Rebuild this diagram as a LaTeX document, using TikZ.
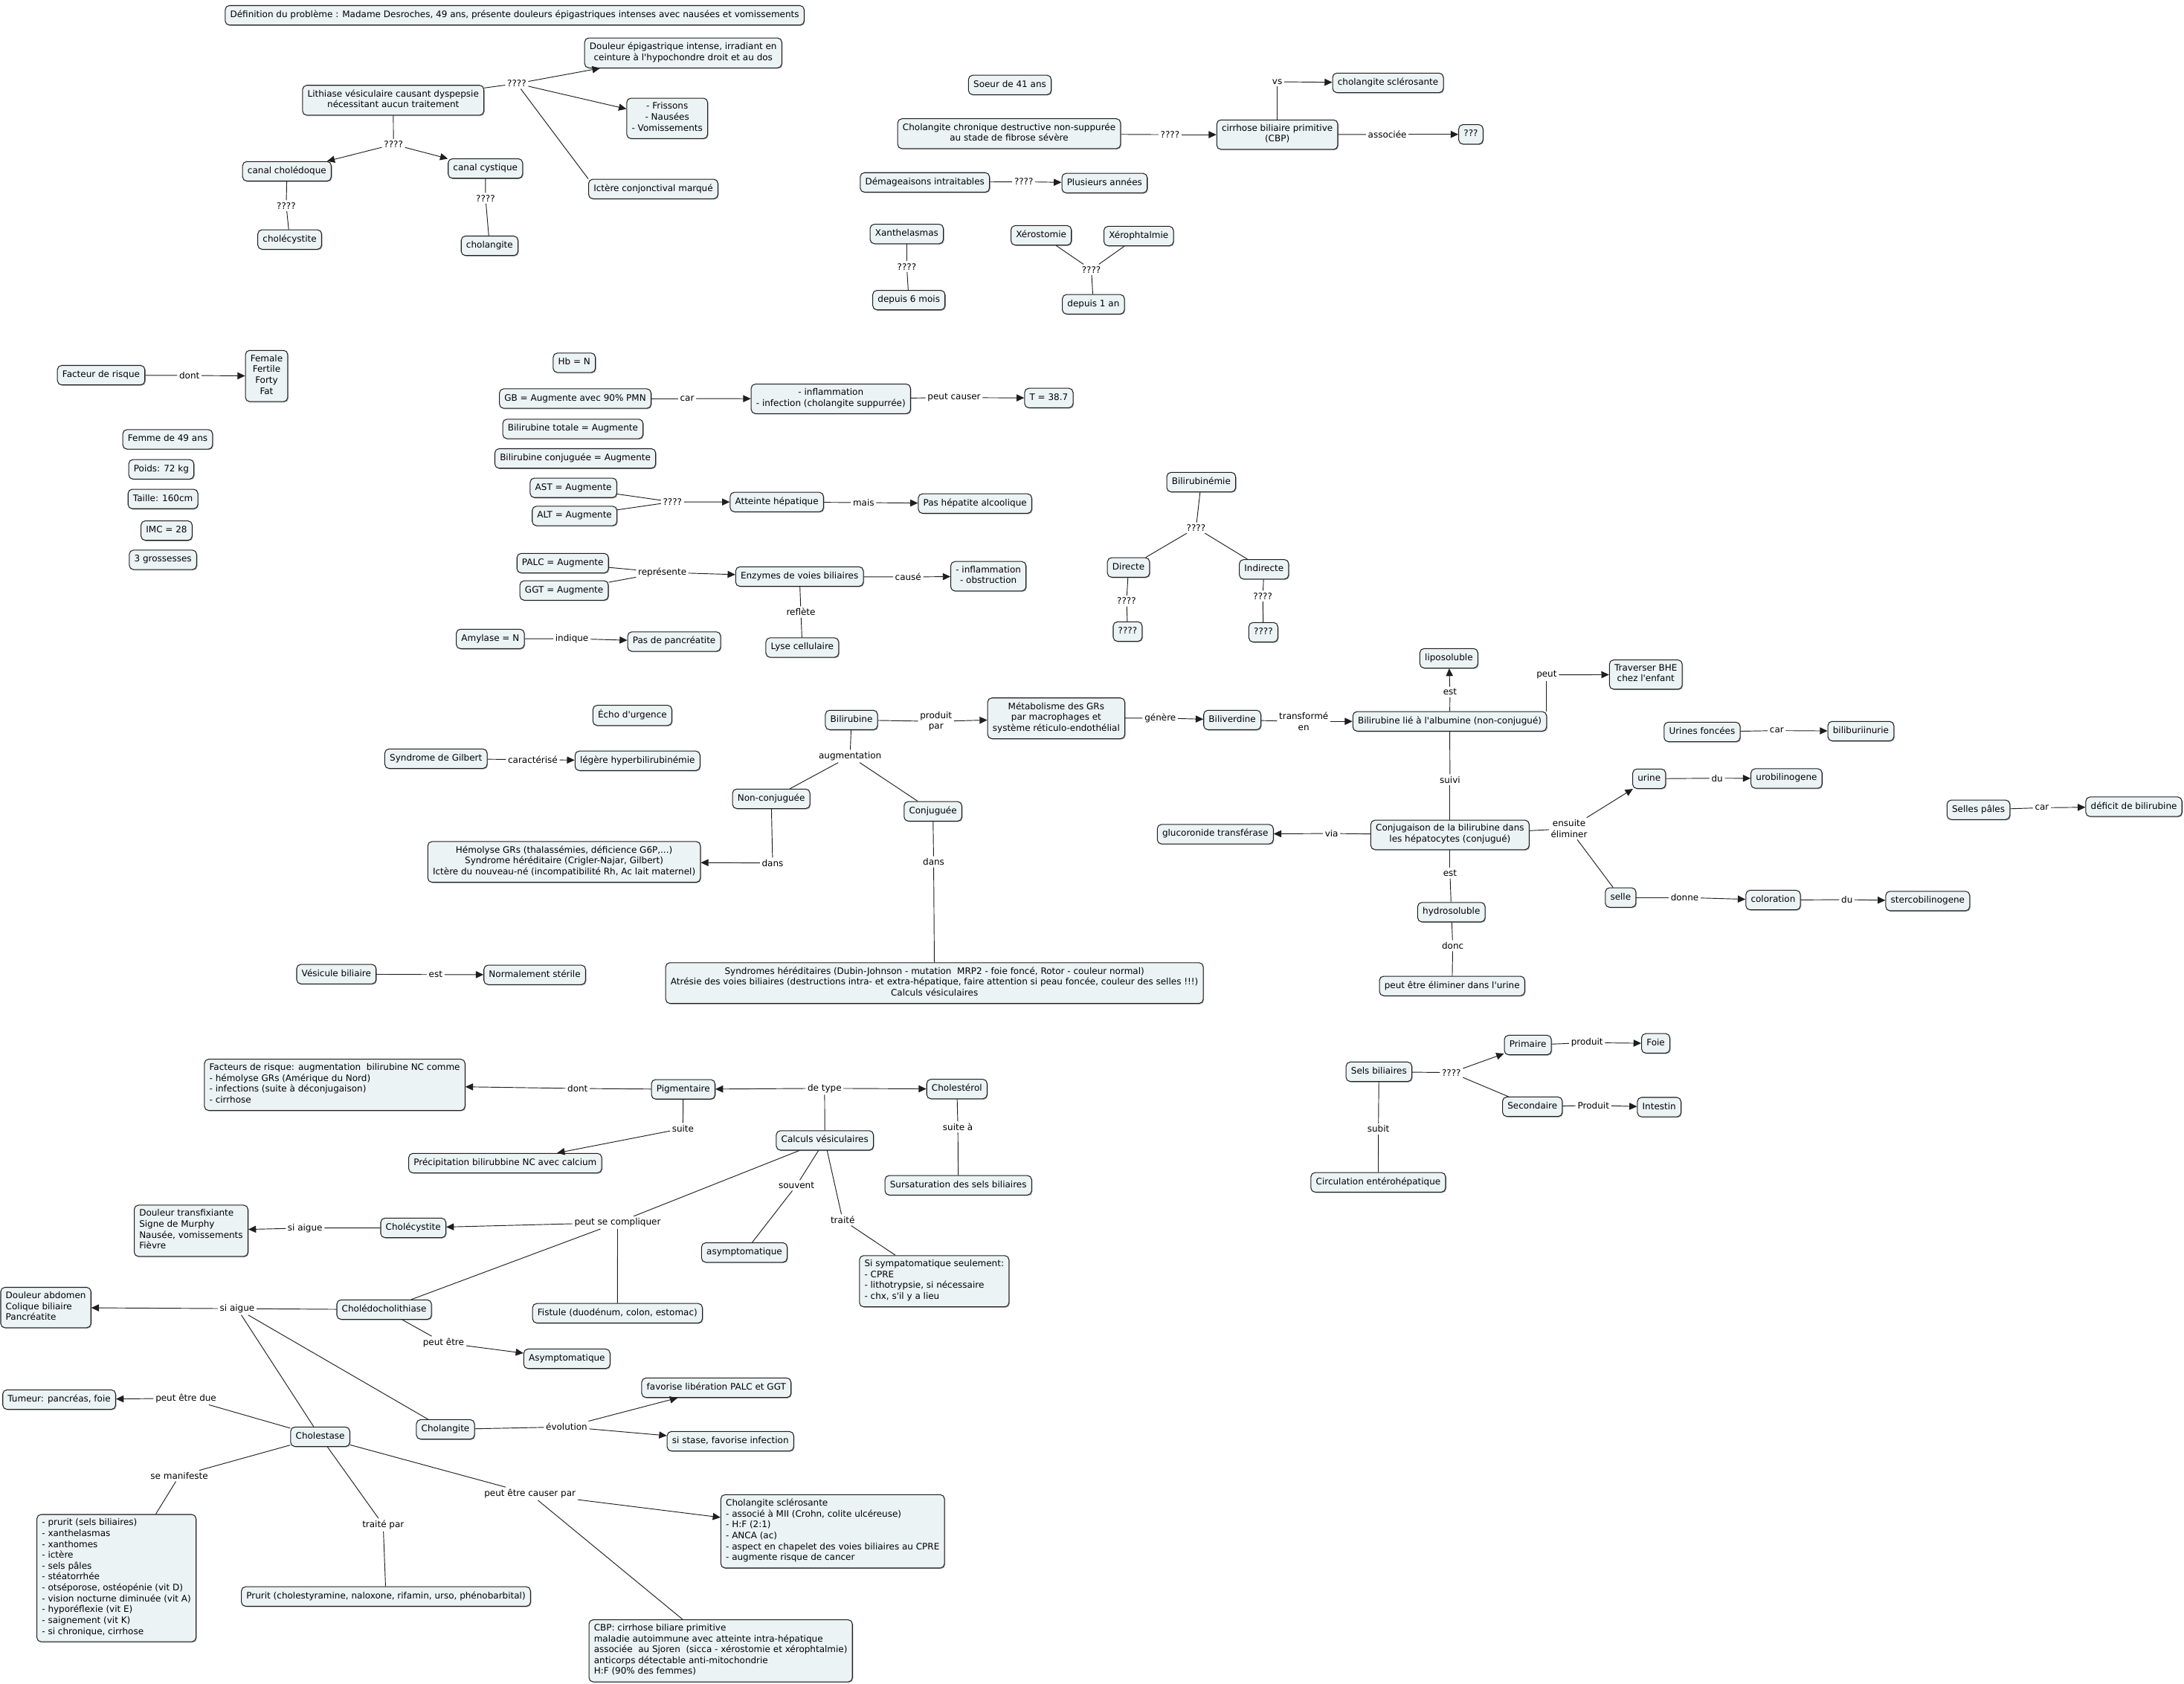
\documentclass[tikz,border=0pt]{standalone}
\usepackage{fontspec}
\setmainfont{DejaVu Sans}[Ligatures=TeXOff]
\usetikzlibrary{arrows.meta,shadows}
\definecolor{boxfill}{RGB}{236,243,245}
\definecolor{edgecol}{RGB}{30,30,30}
\tikzset{
  txt/.style={font=\fontsize{6.4}{7.8}\selectfont},
  box/.style={txt, draw=edgecol, line width=0.55pt, rounded corners=3pt, fill=boxfill,
    inner xsep=3.6pt, inner ysep=3.1pt, align=center,
    execute at begin node=\strut, execute at end node=\strut,
    drop shadow={shadow xshift=0.6pt, shadow yshift=-0.6pt, fill=black!55, opacity=0.6}},
  lbox/.style={box, align=left},
  lab/.style={txt, inner sep=1.3pt, align=center},
  con/.style={line width=0.5pt, draw=edgecol},
  arr/.style={con, -{Triangle[length=5.5pt,width=5pt]}},
}
\begin{document}
\begin{tikzpicture}[x=1pt,y=-1pt]
\fill[white] (0,0) rectangle (1568,1209);
\useasboundingbox (0,0) rectangle (1568,1209);

% ---------- top left ----------
\node[box] (def) at (369.5,11) {Définition du problème : Madame Desroches, 49 ans, présente douleurs épigastriques intenses avec nausées et vomissements};
\node[box] (lith) at (282.3,72) {Lithiase vésiculaire causant dyspepsie\\nécessitant aucun traitement};
\node[lab] (q1) at (371,60) {????};
\node[box] (doul) at (490.5,38) {Douleur épigastrique intense, irradiant en\\ceinture à l'hypochondre droit et au dos};
\node[box] (friss) at (479,85) {- Frissons\\- Nausées\\- Vomissements};
\node[box] (ictere) at (469,135.7) {Ictère conjonctival marqué};
\node[lab] (q2) at (282.5,103.7) {????};
\node[box] (canalch) at (206,123) {canal cholédoque};
\node[box] (canalcy) at (348.5,121) {canal cystique};
\node[lab] (q3) at (205.5,147.7) {????};
\node[lab] (q4) at (348.6,142.4) {????};
\node[box] (cholecA) at (208,172) {cholécystite};
\node[box] (cholangA) at (351.5,176.5) {cholangite};

% ---------- top right ----------
\node[box] (soeur) at (725,61) {Soeur de 41 ans};
\node[box] (chcd) at (724.5,96) {Cholangite chronique destructive non-suppurée\\au stade de fibrose sévère};
\node[lab] (q5) at (840,96.7) {????};
\node[box] (cbp) at (917,96.7) {cirrhose biliaire primitive\\(CBP)};
\node[lab] (vs) at (917,58.7) {vs};
\node[box] (cholscl) at (996.5,59.5) {cholangite sclérosante};
\node[lab] (assoc) at (996,96.5) {associée};
\node[box] (qqq) at (1056,96.5) {???};
\node[box] (dema) at (664,131) {Démageaisons intraitables};
\node[lab] (q6) at (735,130.5) {????};
\node[box] (plus) at (793,131.5) {Plusieurs années};
\node[box] (xanth) at (651,168) {Xanthelasmas};
\node[lab] (q7) at (651,191.5) {????};
\node[box] (dep6) at (652.5,215.5) {depuis 6 mois};
\node[box] (xero) at (747.5,169) {Xérostomie};
\node[box] (xeroph) at (817.5,169.5) {Xérophtalmie};
\node[lab] (q8) at (783.5,193.6) {????};
\node[box] (dep1) at (785,218.5) {depuis 1 an};

% ---------- left middle ----------
\node[box] (risk) at (72.6,269.4) {Facteur de risque};
\node[lab] (dont) at (136,269.6) {dont};
\node[box] (ffff) at (191.4,270) {Female\\Fertile\\Forty\\Fat};
\node[box] (femme) at (120.4,315.5) {Femme de 49 ans};
\node[box] (poids) at (115.8,337) {Poids: 72 kg};
\node[box] (taille) at (117,358.3) {Taille: 160cm};
\node[box] (imc) at (119.6,381) {IMC = 28};
\node[box] (gross) at (117,402) {3 grossesses};

% ---------- lab values ----------
\node[box] (hb) at (412.3,260.5) {Hb = N};
\node[box] (gb) at (413,286.2) {GB = Augmente avec 90\% PMN};
\node[lab] (car1) at (493.3,286.2) {car};
\node[box] (inflA) at (596.5,286.4) {- inflammation\\- infection (cholangite suppurrée)};
\node[lab] (peutcaus) at (685,285.5) {peut causer};
\node[box] (temp) at (753,285.8) {T = 38.7};
\node[box] (biltot) at (411.3,308) {Bilirubine totale = Augmente};
\node[box] (bilconj) at (413,329.2) {Bilirubine conjuguée = Augmente};
\node[box] (ast) at (411.7,350.3) {AST = Augmente};
\node[box] (alt) at (412.5,370.5) {ALT = Augmente};
\node[lab] (q9) at (482.8,360.4) {????};
\node[box] (atteinte) at (557.7,360.5) {Atteinte hépatique};
\node[lab] (mais) at (620,360.9) {mais};
\node[box] (pashep) at (700,361.6) {Pas hépatite alcoolique};
\node[box] (palc) at (404,404.4) {PALC = Augmente};
\node[box] (ggt) at (405,424) {GGT = Augmente};
\node[lab] (repr) at (475.5,411) {représente};
\node[box] (enz) at (574,414) {Enzymes de voies biliaires};
\node[lab] (cause) at (652,414.3) {causé};
\node[box] (inflB) at (709.6,413.8) {- inflammation\\- obstruction};
\node[lab] (refl) at (575,439.5) {reflète};
\node[box] (lyse) at (576,465) {Lyse cellulaire};
\node[box] (amyl) at (352,458.8) {Amylase = N};
\node[lab] (indique) at (410.6,458.6) {indique};
\node[box] (paspanc) at (484,460.7) {Pas de pancréatite};

% ---------- bilirubinemie ----------
\node[box] (bilem) at (862.4,346.2) {Bilirubinémie};
\node[lab] (q10) at (858.7,379) {????};
\node[box] (directe) at (810.2,407.5) {Directe};
\node[box] (indirecte) at (907.5,408.8) {Indirecte};
\node[lab] (q11) at (808.8,431.5) {????};
\node[lab] (q12) at (906.6,428) {????};
\node[box] (qq1) at (809.6,453.5) {????};
\node[box] (qq2) at (907,454) {????};

% ---------- middle ----------
\node[box] (echo) at (454,513.7) {Écho d'urgence};
\node[box] (gilbert) at (313,544.8) {Syndrome de Gilbert};
\node[lab] (carac) at (382.5,545.5) {caractérisé};
\node[box] (legere) at (457.7,546.3) {légère hyperbilirubinémie};
\node[box] (bilirub) at (611.3,517) {Bilirubine};
\node[lab] (prodpar) at (672,518) {produit\\par};
\node[box] (metab) at (758.3,515.8) {Métabolisme des GRs\\par macrophages et\\système réticulo-endothélial};
\node[lab] (genere) at (833,515.6) {génère};
\node[box] (biliv) at (884.7,517) {Biliverdine};
\node[lab] (transf) at (936,518) {transformé\\en};
\node[box] (bilalb) at (1040.8,518) {Bilirubine lié à l'albumine (non-conjugué)};
\node[lab] (est1) at (1041,496.9) {est};
\node[box] (lipo) at (1040.2,472.7) {liposoluble};
\node[lab] (peut) at (1110.4,484.6) {peut};
\node[box] (bhe) at (1181.6,484.4) {Traverser BHE\\chez l'enfant};
\node[lab] (augm) at (610.3,543) {augmentation};
\node[box] (nonconj) at (553.7,573.6) {Non-conjuguée};
\node[box] (conj) at (669.8,582.6) {Conjuguée};
\node[lab] (dans1) at (554.7,619.7) {dans};
\node[lab] (dans2) at (670.3,618.8) {dans};
\node[box] (hemo) at (405,618.9) {Hémolyse GRs (thalassémies, déficience G6P,...)\\Syndrome héréditaire (Crigler-Najar, Gilbert)\\Ictère du nouveau-né (incompatibilité Rh, Ac lait maternel)};
\node[box] (synd) at (670.9,705.9) {Syndromes héréditaires (Dubin-Johnson - mutation\ \ MRP2 - foie foncé, Rotor - couleur normal)\\Atrésie des voies biliaires (destructions intra- et extra-hépatique, faire attention si peau foncée, couleur des selles !!!)\\Calculs vésiculaires};
\node[box] (vesb) at (241.5,699.5) {Vésicule biliaire};
\node[lab] (est2) at (312.8,699.8) {est};
\node[box] (sterile) at (383.9,700) {Normalement stérile};

% ---------- right ----------
\node[box] (urines) at (1222,525.6) {Urines foncées};
\node[lab] (car2) at (1275.6,524.6) {car};
\node[box] (bilib) at (1336,525) {biliburiinurie};
\node[lab] (suivi) at (1041,560) {suivi};
\node[box] (conjug) at (1041,599.5) {Conjugaison de la bilirubine dans\\les hépatocytes (conjugué)};
\node[lab] (via) at (956,598.5) {via};
\node[box] (gluco) at (872.5,599) {glucoronide transférase};
\node[lab] (ensuite) at (1126.5,595) {ensuite\\éliminer};
\node[box] (urine) at (1184,559.2) {urine};
\node[lab] (du1) at (1232.8,558.8) {du};
\node[box] (urob) at (1282.6,559) {urobilinogene};
\node[box] (selle) at (1163.5,644.5) {selle};
\node[lab] (donne) at (1209.5,644.5) {donne};
\node[box] (color) at (1273,646.3) {coloration};
\node[lab] (du2) at (1326,646) {du};
\node[box] (sterco) at (1384,647) {stercobilinogene};
\node[box] (sellep) at (1420.4,581.5) {Selles pâles};
\node[lab] (car3) at (1466,580) {car};
\node[box] (deficit) at (1532,579.3) {déficit de bilirubine};
\node[lab] (est3) at (1041,627) {est};
\node[box] (hydro) at (1042,655) {hydrosoluble};
\node[lab] (donc) at (1043,679) {donc};
\node[box] (peutelim) at (1042.5,708) {peut être éliminer dans l'urine};

% ---------- lower ----------
\node[box] (pigm) at (490.5,782.2) {Pigmentaire};
\node[lab] (dont2) at (414.7,781.6) {dont};
\node[lbox] (facteurs) at (240.3,779) {Facteurs de risque: augmentation\ \ bilirubine NC comme\\- hémolyse GRs (Amérique du Nord)\\- infections (suite à déconjugaison)\\- cirrhose};
\node[lab] (suite) at (490.3,810.3) {suite};
\node[box] (precip) at (362.7,835.2) {Précipitation bilirubbine NC avec calcium};
\node[lab] (detype) at (592,781.5) {de type};
\node[box] (chol) at (687,782) {Cholestérol};
\node[lab] (suitea) at (687.7,809.2) {suite à};
\node[box] (sursat) at (688,851.1) {Sursaturation des sels biliaires};
\node[box] (calculs) at (592.2,818.9) {Calculs vésiculaires};
\node[lab] (compl) at (443.4,877.9) {peut se compliquer};
\node[lab] (souvent) at (571.8,851.2) {souvent};
\node[lab] (traite) at (605,876) {traité};
\node[box] (asympt) at (534.4,899.4) {asymptomatique};
\node[lbox] (sisym) at (670.7,920) {Si sympatomatique seulement:\\- CPRE\\- lithotrypsie, si nécessaire\\- chx, s'il y a lieu};
\node[lbox] (doulT) at (137.2,883.8) {Douleur transfixiante\\Signe de Murphy\\Nausée, vomissements\\Fièvre};
\node[lab] (siaigA) at (219,881.8) {si aigue};
\node[box] (cholecyst) at (296.7,881.7) {Cholécystite};
\node[box] (choledo) at (275.8,940.4) {Cholédocholithiase};
\node[box] (fistule) at (443.3,943) {Fistule (duodénum, colon, estomac)};
\node[lbox] (doulA) at (32.9,938.9) {Douleur abdomen\\Colique biliaire\\Pancréatite};
\node[lab] (siaigB) at (170.3,939.7) {si aigue};
\node[lab] (peutetre) at (318.4,964.2) {peut être};
\node[box] (asympt2) at (407,975.7) {Asymptomatique};
\node[box] (tumeur) at (42.5,1005) {Tumeur: pancréas, foie};
\node[lab] (peutdue) at (133.5,1004) {peut être due};
\node[box] (cholest) at (229.9,1031.7) {Cholestase};
\node[box] (cholangB) at (319.8,1026.4) {Cholangite};
\node[lab] (evol) at (406.8,1024.6) {évolution};
\node[box] (favor) at (514.3,996.5) {favorise libération PALC et GGT};
\node[box] (stase) at (524.4,1034.9) {si stase, favorise infection};
\node[lab] (semanif) at (128.7,1059.8) {se manifeste};
\node[lbox] (prurit) at (83.6,1133.2) {- prurit (sels biliaires)\\- xanthelasmas\\- xanthomes\\- ictère\\- sels pâles\\- stéatorrhée\\- otséporose, ostéopénie (vit D)\\- vision nocturne diminuée (vit A)\\- hyporéflexie (vit E)\\- saignement (vit K)\\- si chronique, cirrhose};
\node[lab] (traitepar) at (275.1,1095) {traité par};
\node[box] (prurit2) at (277.1,1146.4) {Prurit (cholestyramine, naloxone, rifamin, urso, phénobarbital)};
\node[lab] (causer) at (380.5,1072.6) {peut être causer par};
\node[lbox] (cholscl2) at (597.8,1099.6) {Cholangite sclérosante\\- associé à MII (Crohn, colite ulcéreuse)\\- H:F (2:1)\\- ANCA (ac)\\- aspect en chapelet des voies biliaires au CPRE\\- augmente risque de cancer};
\node[lbox] (cbp2) at (517.4,1185.4) {CBP: cirrhose biliare primitive\\maladie autoimmune avec atteinte intra-hépatique\\associée\ \ au Sjoren\ \ (sicca - xérostomie et xérophtalmie)\\anticorps détectable anti-mitochondrie\\H:F (90\% des femmes)};

% ---------- sels biliaires ----------
\node[box] (sels) at (990,769.6) {Sels biliaires};
\node[lab] (q13) at (1042,770.2) {????};
\node[box] (primaire) at (1096.9,750.4) {Primaire};
\node[lab] (prodA) at (1139.4,748.7) {produit};
\node[box] (foie) at (1188.7,749.2) {Foie};
\node[box] (second) at (1100.2,794.7) {Secondaire};
\node[lab] (prodB) at (1144,793.7) {Produit};
\node[box] (intestin) at (1191.2,795) {Intestin};
\node[lab] (subit) at (989.6,810.6) {subit};
\node[box] (circ) at (989.5,849) {Circulation entérohépatique};

% ================= connectors =================
\draw[con] (lith) -- (q1);
\draw[arr] (q1) -- (doul);
\draw[arr] (q1) -- (friss);
\draw[con] (q1) -- (ictere.north west);
\draw[con] (lith) -- (q2);
\draw[arr] (q2) -- (canalch);
\draw[arr] (q2) -- (canalcy);
\draw[con] (canalch) -- (q3);
\draw[con] (q3) -- (cholecA);
\draw[con] (canalcy) -- (q4);
\draw[con] (q4) -- (cholangA);
\draw[con] (chcd) -- (q5);
\draw[arr] (q5) -- (cbp);
\draw[con] (cbp) -- (vs);
\draw[arr] (vs) -- (cholscl);
\draw[con] (cbp) -- (assoc);
\draw[arr] (assoc) -- (qqq);
\draw[con] (dema) -- (q6);
\draw[arr] (q6) -- (plus);
\draw[con] (xanth) -- (q7);
\draw[con] (q7) -- (dep6);
\draw[con] (xero) -- (q8);
\draw[con] (xeroph) -- (q8);
\draw[con] (q8) -- (dep1);
\draw[con] (risk) -- (dont);
\draw[arr] (dont) -- (ffff);
\draw[con] (gb) -- (car1);
\draw[arr] (car1) -- (inflA);
\draw[con] (inflA) -- (peutcaus);
\draw[arr] (peutcaus) -- (temp);
\draw[con] (ast) -- (q9);
\draw[con] (alt) -- (q9);
\draw[arr] (q9) -- (atteinte);
\draw[con] (atteinte) -- (mais);
\draw[arr] (mais) -- (pashep);
\draw[con] (palc) -- (repr);
\draw[con] (ggt) -- (repr);
\draw[arr] (repr) -- (enz);
\draw[con] (enz) -- (cause);
\draw[arr] (cause) -- (inflB);
\draw[con] (enz) -- (refl);
\draw[con] (refl) -- (lyse);
\draw[con] (amyl) -- (indique);
\draw[arr] (indique) -- (paspanc);
\draw[con] (bilem) -- (q10);
\draw[con] (q10) -- (directe);
\draw[con] (q10) -- (indirecte);
\draw[con] (directe) -- (q11);
\draw[con] (q11) -- (qq1);
\draw[con] (indirecte) -- (q12);
\draw[con] (q12) -- (qq2);
\draw[con] (gilbert) -- (carac);
\draw[arr] (carac) -- (legere);
\draw[con] (bilirub) -- (prodpar);
\draw[arr] (prodpar) -- (metab);
\draw[con] (metab) -- (genere);
\draw[arr] (genere) -- (biliv);
\draw[con] (biliv) -- (transf);
\draw[arr] (transf) -- (bilalb);
\draw[con] (bilalb) -- (est1);
\draw[arr] (est1) -- (lipo);
\draw[con] (bilalb.north -| peut) -- (peut);
\draw[arr] (peut) -- (bhe);
\draw[con] (bilalb) -- (suivi);
\draw[con] (suivi) -- (conjug);
\draw[con] (conjug) -- (via);
\draw[arr] (via) -- (gluco);
\draw[con] (conjug) -- (ensuite);
\draw[arr] (ensuite) -- (urine);
\draw[con] (ensuite) -- (selle);
\draw[con] (urine) -- (du1);
\draw[arr] (du1) -- (urob);
\draw[con] (selle) -- (donne);
\draw[arr] (donne) -- (color);
\draw[con] (color) -- (du2);
\draw[arr] (du2) -- (sterco);
\draw[con] (urines) -- (car2);
\draw[arr] (car2) -- (bilib);
\draw[con] (sellep) -- (car3);
\draw[arr] (car3) -- (deficit);
\draw[con] (conjug) -- (est3);
\draw[con] (est3) -- (hydro);
\draw[con] (hydro) -- (donc);
\draw[con] (donc) -- (peutelim);
\draw[con] (bilirub) -- (augm);
\draw[con] (augm) -- (nonconj);
\draw[con] (augm) -- (conj);
\draw[con] (nonconj) -- (dans1);
\draw[arr] (dans1) -- (hemo);
\draw[con] (conj) -- (dans2);
\draw[con] (dans2) -- (synd);
\draw[con] (vesb) -- (est2);
\draw[arr] (est2) -- (sterile);

\draw[con] (calculs) -- (detype);
\draw[arr] (detype) -- (pigm);
\draw[arr] (detype) -- (chol);
\draw[con] (pigm) -- (dont2);
\draw[arr] (dont2) -- (facteurs);
\draw[con] (pigm) -- (suite);
\draw[arr] (suite) -- (precip);
\draw[con] (chol) -- (suitea);
\draw[con] (suitea) -- (sursat);
\draw[con] (calculs) -- (compl);
\draw[arr] (compl) -- (cholecyst);
\draw[con] (compl) -- (choledo);
\draw[con] (compl) -- (fistule);
\draw[con] (calculs) -- (souvent);
\draw[con] (souvent) -- (asympt);
\draw[con] (calculs) -- (traite);
\draw[con] (traite) -- (sisym);
\draw[con] (cholecyst) -- (siaigA);
\draw[arr] (siaigA) -- (doulT);
\draw[con] (choledo) -- (siaigB);
\draw[arr] (siaigB) -- (doulA);
\draw[con] (siaigB) -- (cholest);
\draw[con] (siaigB) -- (cholangB);
\draw[con] (choledo) -- (peutetre);
\draw[arr] (peutetre) -- (asympt2);
\draw[con] (cholangB) -- (evol);
\draw[arr] (evol) -- (favor);
\draw[arr] (evol) -- (stase);
\draw[con] (cholest) -- (peutdue);
\draw[arr] (peutdue) -- (tumeur);
\draw[con] (cholest) -- (semanif);
\draw[con] (semanif) -- (prurit);
\draw[con] (cholest) -- (traitepar);
\draw[con] (traitepar) -- (prurit2);
\draw[con] (cholest) -- (causer);
\draw[arr] (causer) -- (cholscl2);
\draw[con] (causer) -- (cbp2);

\draw[con] (sels) -- (q13);
\draw[arr] (q13) -- (primaire);
\draw[con] (q13) -- (second);
\draw[con] (primaire) -- (prodA);
\draw[arr] (prodA) -- (foie);
\draw[con] (second) -- (prodB);
\draw[arr] (prodB) -- (intestin);
\draw[con] (sels) -- (subit);
\draw[con] (subit) -- (circ);
\end{tikzpicture}
\end{document}
